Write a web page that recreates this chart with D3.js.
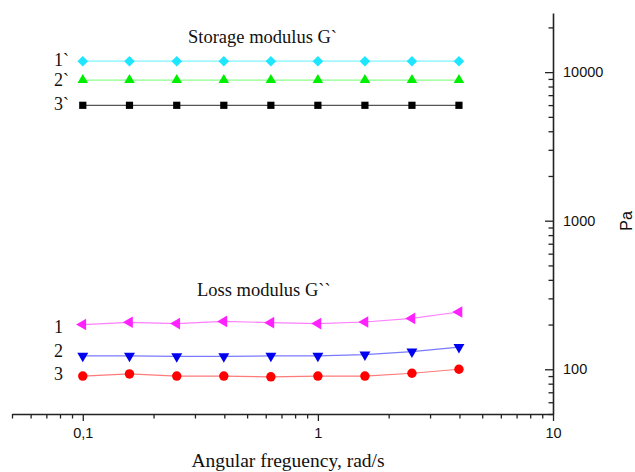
<!DOCTYPE html>
<html>
<head>
<meta charset="utf-8">
<script src="https://cdn.jsdelivr.net/npm/d3@7"></script>
<style>
  html, body { margin: 0; padding: 0; background: #fff; }
  svg { display: block; }
  .serif { font-family: "Liberation Serif", "Times New Roman", serif; fill: #111; }
  .sans { font-family: "Liberation Sans", Arial, sans-serif; fill: #111; }
</style>
</head>
<body>
<svg id="chart" width="635" height="472"></svg>
<script>
// Angular frequency, rad/s
const freq = [0.1, 0.158, 0.251, 0.398, 0.631, 1, 1.585, 2.512, 3.981];

// Storage modulus G` (Pa)
const storage1 = [11850, 11850, 11850, 11850, 11850, 11850, 11850, 11850, 11850];
const storage2 = [8840, 8840, 8840, 8840, 8840, 8840, 8840, 8840, 8840];
const storage3 = [5980, 5980, 5980, 5980, 5980, 5980, 5980, 5980, 5980];

// Loss modulus G`` (Pa)
const loss1 = [200, 207, 203, 210, 206, 203, 208, 220, 243];
const loss2 = [123, 123, 122, 122, 123, 123, 125.5, 131.5, 141];
const loss3 = [90, 93, 90, 90, 89, 90, 90, 94, 100];

// Axis ticks
const xMajor = [0.1, 1, 10];
const xTickLabels = ["0,1", "1", "10"];
const yMajor = [100, 1000, 10000];
const yTickLabels = ["100", "1000", "10000"];

const svg = d3.select("#chart");

const x = d3.scaleLog().domain([0.05, 10]).range([12, 553]);
const y = d3.scaleLog().domain([50, 25000]).range([414, 13]);

// minor ticks: 2..9 of each decade, inside the domain
function minorTicks(scale) {
  const [a, b] = scale.domain();
  const out = [];
  for (let e = Math.floor(Math.log10(a)); e <= Math.ceil(Math.log10(b)); e++) {
    for (let m = 2; m <= 9; m++) {
      const v = m * Math.pow(10, e);
      if (v >= a * 0.9999 && v <= b * 1.0001) out.push(v);
    }
  }
  return out;
}

const axisColor = "#222";

// bottom axis
const gx = svg.append("g").attr("transform", "translate(0,414)");
gx.call(d3.axisBottom(x).tickValues(minorTicks(x)).tickSizeInner(4.5).tickSizeOuter(0).tickFormat(""));
gx.call(g => g.select(".domain").remove());
const gxMajor = svg.append("g").attr("transform", "translate(0,414)")
  .call(d3.axisBottom(x).tickValues(xMajor).tickSizeInner(7).tickSizeOuter(0).tickPadding(7)
    .tickFormat((d, i) => xTickLabels[i]));
[gx, gxMajor].forEach(g => {
  g.selectAll("line").attr("stroke", axisColor).attr("stroke-width", 1.3);
  g.selectAll(".domain").attr("stroke", axisColor).attr("stroke-width", 1.6);
  g.selectAll("text").attr("class", "sans").style("font-size", "14.5px").attr("fill", "#111");
});

// right axis, ticks pointing into the plot
const gy = svg.append("g").attr("transform", "translate(553,0)");
gy.call(d3.axisRight(y).tickValues(minorTicks(y)).tickSizeInner(-4.5).tickSizeOuter(0).tickFormat(""));
gy.call(g => g.select(".domain").remove());
const gyMajor = svg.append("g").attr("transform", "translate(553,0)")
  .call(d3.axisRight(y).tickValues(yMajor).tickSizeInner(-8).tickSizeOuter(0).tickPadding(10)
    .tickFormat((d, i) => yTickLabels[i]));
[gy, gyMajor].forEach(g => {
  g.selectAll("line").attr("stroke", axisColor).attr("stroke-width", 1.3);
  g.selectAll(".domain").attr("stroke", axisColor).attr("stroke-width", 1.6);
  g.selectAll("text").attr("class", "sans").style("font-size", "14.5px").attr("fill", "#111");
});

// series
const series = [
  { values: storage1, line: "#7ff4ff", fill: "#1ee6ff", shape: "diamond" },
  { values: storage2, line: "#8cff8c", fill: "#00ee00", shape: "triUp" },
  { values: storage3, line: "#555555", fill: "#000000", shape: "square" },
  { values: loss1, line: "#ff80ff", fill: "#ff22ff", shape: "triLeft" },
  { values: loss2, line: "#7a7aff", fill: "#0000f0", shape: "triDown" },
  { values: loss3, line: "#ff7a7a", fill: "#ff0000", shape: "circle" }
];

const shapes = {
  diamond: { type: d3.symbolSquare, size: 56, rot: 45 },
  triUp: { type: d3.symbolTriangle, size: 48, rot: 0 },
  square: { type: d3.symbolSquare, size: 52, rot: 0 },
  triLeft: { type: d3.symbolTriangle, size: 58, rot: -90 },
  triDown: { type: d3.symbolTriangle, size: 52, rot: 180 },
  circle: { type: d3.symbolCircle, size: 70, rot: 0 }
};

const line = d3.line().x((d, i) => x(freq[i])).y(d => y(d));

series.forEach(s => {
  svg.append("path")
    .attr("d", line(s.values))
    .attr("fill", "none")
    .attr("stroke", s.line)
    .attr("stroke-width", 1.2);
  const sh = shapes[s.shape];
  svg.append("g").selectAll("path")
    .data(s.values)
    .join("path")
    .attr("d", d3.symbol().type(sh.type).size(sh.size))
    .attr("transform", (d, i) => `translate(${x(freq[i])},${y(d)}) rotate(${sh.rot})`)
    .attr("fill", s.fill);
});

// annotations
svg.append("text").attr("class", "serif").attr("x", 188).attr("y", 43)
  .style("font-size", "18.5px").text("Storage modulus G`");
svg.append("text").attr("class", "serif").attr("x", 197).attr("y", 296)
  .style("font-size", "18.5px").text("Loss modulus G``");

const storageLabels = ["1`", "2`", "3`"];
const storageLabelY = [66, 86, 110];
storageLabels.forEach((t, i) => {
  svg.append("text").attr("class", "serif").attr("x", 54).attr("y", storageLabelY[i])
    .style("font-size", "18px").text(t);
});
const lossLabels = ["1", "2", "3"];
const lossLabelY = [333, 357, 380];
lossLabels.forEach((t, i) => {
  svg.append("text").attr("class", "serif").attr("x", 54).attr("y", lossLabelY[i])
    .style("font-size", "18px").text(t);
});

// axis titles
svg.append("text").attr("class", "serif").attr("x", 288).attr("y", 467)
  .attr("text-anchor", "middle").style("font-size", "19.5px").text("Angular freguency, rad/s");
svg.append("text").attr("class", "sans")
  .attr("transform", "translate(632,221) rotate(-90)")
  .attr("text-anchor", "middle").style("font-size", "16px").text("Pa");
</script>
</body>
</html>
